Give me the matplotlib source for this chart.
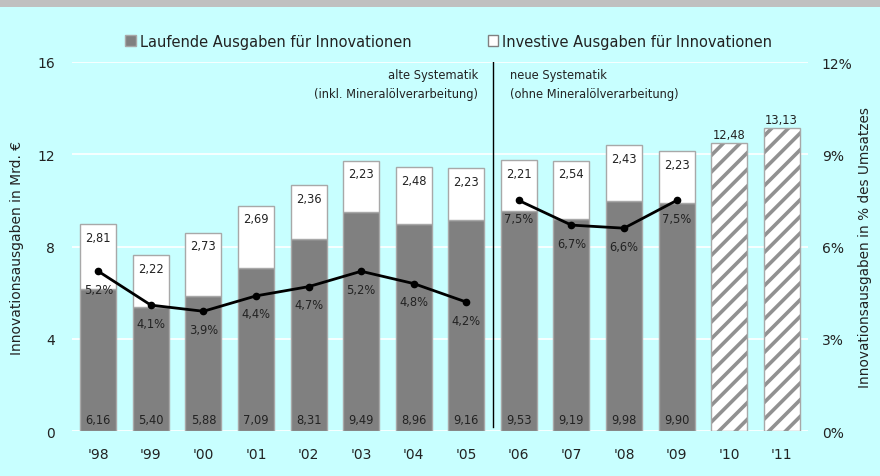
import numpy as np
import matplotlib
matplotlib.use("Agg")
import matplotlib.pyplot as plt
from matplotlib.patches import Rectangle

plt.rcParams.update({"font.family": "DejaVu Sans", "hatch.linewidth": 2.6})

# ---------------------------------------------------------------------------
# Data
# ---------------------------------------------------------------------------
years = ["'98", "'99", "'00", "'01", "'02", "'03", "'04", "'05",
         "'06", "'07", "'08", "'09", "'10", "'11"]
laufend = [6.16, 5.40, 5.88, 7.09, 8.31, 9.49, 8.96, 9.16,
           9.53, 9.19, 9.98, 9.90]
investiv = [2.81, 2.22, 2.73, 2.69, 2.36, 2.23, 2.48, 2.23,
            2.21, 2.54, 2.43, 2.23]
plan = [12.48, 13.13]                       # '10, '11 (planned totals)
quote_alt = [5.2, 4.1, 3.9, 4.4, 4.7, 5.2, 4.8, 4.2]   # '98-'05
quote_neu = [7.5, 6.7, 6.6, 7.5]                       # '06-'09

BG = "#c8ffff"
GRAY = "#808080"
EDGE = "#a8a8a8"
TXT = "#222222"


def fmt(v, nd=2):
    return f"{v:.{nd}f}".replace(".", ",")


# ---------------------------------------------------------------------------
# Figure
# ---------------------------------------------------------------------------
fig = plt.figure(figsize=(8.8, 4.77), dpi=100, facecolor=BG)
fig.patches.append(Rectangle((0, 1 - 8 / 477), 1, 8 / 477, transform=fig.transFigure,
                             facecolor="#c0c0c0", edgecolor="none", zorder=0))
ax = fig.add_axes([72 / 880, 1 - 432.3 / 477, 736 / 880, (432.3 - 63) / 477])
ax.set_facecolor(BG)
ax2 = ax.twinx()

x = np.arange(len(years))
n = len(laufend)
w = 0.685

ax.bar(x[:n], laufend, w, color=GRAY, edgecolor=EDGE, lw=1, zorder=3)
ax.bar(x[:n], investiv, w, bottom=laufend, color="white", edgecolor=EDGE, lw=1, zorder=3)
ax.bar(x[n:], plan, w, color="white", edgecolor="#919191", hatch="//", lw=0, zorder=3)
ax.bar(x[n:], plan, w, color="none", edgecolor=EDGE, lw=1, zorder=4)

for i in range(n):
    ax.text(x[i], 0.5, fmt(laufend[i]), ha="center", va="center", fontsize=8.3,
            color=TXT, zorder=5)
    ax.annotate(fmt(investiv[i]), (x[i], laufend[i] + investiv[i]), xytext=(0, -9.5),
                textcoords="offset points", ha="center", va="center", fontsize=8.3,
                color=TXT, zorder=5)
for i, v in enumerate(plan):
    ax.annotate(fmt(v), (x[n + i], v), xytext=(0, 6), textcoords="offset points",
                ha="center", va="center", fontsize=8.3, color=TXT, zorder=5)

# share of turnover (right axis)
for xs, ys in [(x[:8], quote_alt), (x[8:12], quote_neu)]:
    ax2.plot(xs, ys, "-o", color="black", lw=2, ms=4.5, zorder=6)
    for xi, yi in zip(xs, ys):
        ax2.annotate(fmt(yi, 1) + "%", (xi, yi), xytext=(0, -13),
                     textcoords="offset points", ha="center", va="center",
                     fontsize=8.3, color=TXT, zorder=7)

# method break
ax.plot([7.5, 7.5], [0.2, 16], color="black", lw=1, zorder=5)
ax.text(7.22, 15.45, "alte Systematik", ha="right", va="center", fontsize=8.3, color=TXT)
ax.text(7.22, 14.65, "(inkl. Mineralölverarbeitung)", ha="right", va="center",
        fontsize=8.3, color=TXT)
ax.text(7.84, 15.45, "neue Systematik", ha="left", va="center", fontsize=8.3, color=TXT)
ax.text(7.84, 14.65, "(ohne Mineralölverarbeitung)", ha="left", va="center",
        fontsize=8.3, color=TXT)

# axes
ax.set_xlim(-0.5, 13.5)
ax.set_ylim(0, 16)
ax2.set_ylim(0, 12)
ax.set_yticks([0, 4, 8, 12, 16])
ax2.set_yticks([0, 3, 6, 9, 12])
ax2.set_yticklabels([f"{v}%" for v in [0, 3, 6, 9, 12]])
ax.set_xticks(x)
ax.set_xticklabels(years)
ax.yaxis.grid(True, color="white", lw=1.2, zorder=0)
ax.set_axisbelow(True)
for a in (ax, ax2):
    for s in a.spines.values():
        s.set_visible(False)
    a.tick_params(length=0, labelsize=10, colors=TXT)
ax.tick_params(axis="y", pad=12)
ax.tick_params(axis="x", pad=11)
ax2.tick_params(axis="y", pad=10)
ax.set_ylabel("Innovationsausgaben in Mrd. €", fontsize=10, color=TXT, labelpad=10)
ax2.set_ylabel("Innovationsausgaben in % des Umsatzes", fontsize=9.8, color=TXT, labelpad=4)

# legend
handles = [Rectangle((0, 0), 1, 1, facecolor=GRAY, edgecolor=EDGE),
           Rectangle((0, 0), 1, 1, facecolor="white", edgecolor=GRAY)]
fig.legend(handles, ["Laufende Ausgaben für Innovationen", "Investive Ausgaben für Innovationen"],
           loc="center", bbox_to_anchor=(0.51, 1 - 42 / 477), ncol=2, frameon=False,
           fontsize=10.5, handlelength=0.7, handleheight=0.7, handletextpad=0.3,
           columnspacing=5.2, labelcolor=TXT)

fig.savefig("out.png", dpi=100, facecolor=BG)
